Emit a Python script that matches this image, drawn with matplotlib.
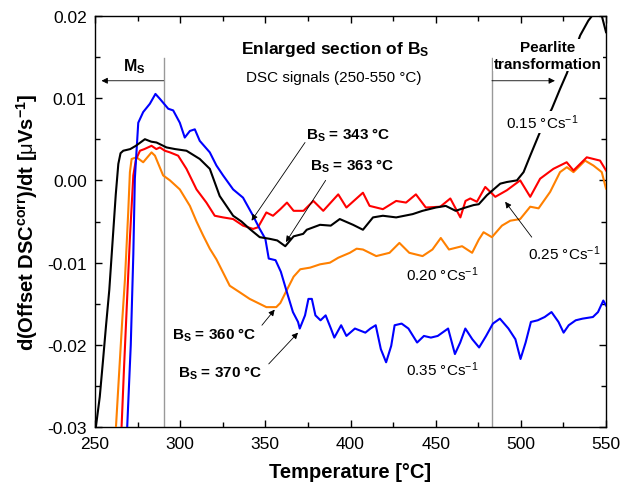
import matplotlib
matplotlib.use("Agg")
import matplotlib.pyplot as plt
from matplotlib.ticker import MultipleLocator, FormatStrFormatter

plt.rcParams['font.family'] = ['Liberation Sans', 'DejaVu Sans']
plt.rcParams['mathtext.fontset'] = 'custom'
plt.rcParams['mathtext.rm'] = 'Liberation Sans'
plt.rcParams['mathtext.bf'] = 'Liberation Sans:bold'
plt.rcParams['mathtext.it'] = 'Liberation Sans:italic'
plt.rcParams['axes.unicode_minus'] = False

# ---- data (temperature [°C], signal) ----
black_015 = [(250.5,-0.030),(252.8,-0.0263),(254.7,-0.0219),(256.5,-0.0176),(258.4,-0.0133),
             (260.3,-0.0075),(262.2,-0.0017),(263.7,0.0020),(265,0.0033),(266.6,0.0036),
             (270.7,0.0038),(274,0.0042),(279.3,0.0050),(283,0.0047),(286.1,0.0046),
             (292,0.0040),(297,0.0038),(303.7,0.0036),(311.5,0.0026),(317.4,0.0014),
             (323.2,-0.0019),(331.1,-0.0043),(336,-0.0050),(340.8,-0.0059),(346.7,-0.0069),
             (352.5,-0.0071),(357,-0.0073),(361.7,-0.0080),(366.6,-0.0068),(372.2,-0.0065),
             (374.3,-0.0060),(382.1,-0.0054),(388.4,-0.0055),(393.7,-0.0047),(401.5,-0.0054),
             (407.3,-0.0060),(413.2,-0.0045),(419,-0.0043),(426.8,-0.0045),(436.5,-0.0041),
             (442.3,-0.0037),(450.1,-0.0033),(455.9,-0.0031),(461.7,-0.0037),(467.5,-0.0033),
             (472.3,-0.0030),(475.3,-0.0029),(480.1,-0.0018),(487.9,-0.0004),(491.8,-0.0002),
             (497.7,0.0),(501.6,0.0010),(505.5,0.0030),(511.3,0.0059),(518.2,0.0087),
             (523,0.0111),(527,0.0130),(534.8,0.0176),(539.6,0.0194),(542.6,0.0202),
             (545,0.0215),(547.5,0.0200),(550,0.0180)]

red_025 = [(265.6,-0.030),(267,-0.023),(268.6,-0.0156),(270.5,-0.007),(272.5,0.0006),
           (274,0.0025),(276.4,0.0036),(279,0.0038),(283.2,0.0042),(286,0.0038),
           (288.1,0.0040),(291,0.0036),(294,0.0034),(298.8,0.0030),(303.7,0.0014),
           (309.6,-0.0011),(315.4,-0.0027),(320.3,-0.0043),(325.2,-0.0045),(331.1,-0.0047),
           (336.9,-0.0055),(342.8,-0.0059),(345.7,-0.0057),(350.6,-0.0039),(354.5,-0.0043),
           (358.8,-0.0035),(362.7,-0.0027),(366.6,-0.0037),(372.4,-0.0037),(378.2,-0.0025),
           (384,-0.0037),(392.8,-0.0017),(397.6,-0.0033),(407.3,-0.0015),(411.2,-0.0031),
           (419,-0.0035),(426.8,-0.0025),(432.6,-0.0027),(438.4,-0.0017),(444.2,-0.0033),
           (452.7,-0.0032),(458.6,-0.0022),(464.5,-0.0045),(467.5,-0.0025),(470.3,-0.0022),
           (474.2,-0.0026),(479.1,-0.0008),(485,-0.0020),(491.8,-0.0012),(499.6,0.0),
           (505.5,-0.0020),(511.3,0.0002),(519.1,0.0014),(526.9,0.0022),(530.9,0.0012),
           (538.7,0.0028),(546.5,0.0024),(550,0.0012)]

orange_020 = [(262.3,-0.030),(264,-0.024),(266,-0.017),(267.6,-0.012),(269.5,-0.0039),
              (270.5,0.0010),(271.5,0.0026),(274.4,0.0028),(278.3,0.0022),(283.2,0.0034),
              (285.2,0.0030),(290,0.0006),(294,0.0),(299.8,-0.0011),(305.7,-0.0031),
              (309.6,-0.0050),(313.5,-0.0067),(317.4,-0.0083),(321.3,-0.0096),(325.2,-0.0112),
              (329.1,-0.0128),(335,-0.0136),(340.8,-0.0144),(346.7,-0.0150),(350.6,-0.0154),
              (356.4,-0.0154),(358.8,-0.0149),(361.7,-0.0137),(366.6,-0.0117),(370.5,-0.0108),
              (376.3,-0.0106),(382.1,-0.0102),(387.9,-0.0100),(392.8,-0.0094),(399.6,-0.0088),
              (403.6,-0.0083),(407.3,-0.0084),(415.1,-0.0092),(422.9,-0.0088),(428.7,-0.0076),
              (434.5,-0.0088),(442.3,-0.0092),(448.1,-0.0084),(453,-0.0070),(457.8,-0.0084),
              (465.5,-0.0080),(471.4,-0.0088),(475.3,-0.0072),(478.1,-0.0063),(483,-0.0069),
              (488.9,-0.0055),(493.8,-0.0049),(499.6,-0.0047),(505.5,-0.0032),(510.4,-0.0034),
              (517.2,-0.0014),(523,0.0010),(527,0.0016),(530.9,0.0010),(534.8,0.0018),
              (537.7,0.0024),(542.6,0.0018),(547.5,0.0010),(550,-0.0010)]

blue_035 = [(268.9,-0.030),(271,-0.020),(272.5,-0.009),(273.4,0.0002),(275.4,0.0070),
            (278.3,0.0083),(282.2,0.0093),(285.5,0.0105),(288.1,0.0099),(293,0.0087),
            (295.9,0.0085),(299.8,0.0070),(302.7,0.0052),(305.7,0.0060),(308.6,0.0062),
            (311.5,0.0048),(317.4,0.0034),(321.3,0.0018),(325.2,0.0006),(331.1,-0.0011),
            (336.9,-0.0021),(342.8,-0.0043),(346.7,-0.0059),(350,-0.0071),(352,-0.0095),
            (356,-0.0097),(359.1,-0.0111),(362.1,-0.0132),(366.2,-0.0160),(369.2,-0.0172),
            (370.2,-0.0180),(373.3,-0.0164),(375.3,-0.0144),(377.3,-0.0144),(379.4,-0.0164),
            (382.4,-0.0170),(385.4,-0.0164),(388.5,-0.0180),(390.5,-0.0191),(394.5,-0.0176),
            (397.6,-0.0189),(402.6,-0.0180),(408.7,-0.0185),(411.7,-0.0180),(414.8,-0.0176),
            (417.8,-0.0205),(420.9,-0.0221),(423.9,-0.0201),(425.9,-0.0176),(430,-0.0174),
            (434,-0.0180),(439.1,-0.0197),(443.1,-0.0189),(447.2,-0.0191),(451.2,-0.0189),
            (457.3,-0.0180),(461.3,-0.0211),(464.4,-0.0197),(467.4,-0.0180),(471.5,-0.0193),
            (475.5,-0.0203),(479.6,-0.0189),(483.6,-0.0174),(487.7,-0.0168),(492.7,-0.0180),
            (496.8,-0.0193),(499.8,-0.0217),(502.8,-0.0197),(505.9,-0.0172),(509.9,-0.0170),
            (514,-0.0166),(518,-0.0160),(522.1,-0.0172),(525.1,-0.0185),(528.1,-0.0176),
            (532.2,-0.0170),(536.2,-0.0168),(542.3,-0.0166),(545.3,-0.0160),(548.4,-0.0146),
            (550,-0.0152)]

ms_temp = 290.3
pearlite_temp = 483.0

fig = plt.figure(figsize=(6.32, 4.89), dpi=100)
ax = fig.add_axes([0.1503, 0.1241, 0.9589 - 0.1503, 0.9658 - 0.1241])

def draw(pts, color, z):
    t = [p[0] for p in pts]
    v = [p[1] for p in pts]
    ax.plot(t, v, color=color, lw=1.5, zorder=z, solid_joinstyle='round')

draw(orange_020, '#ff8000', 3)
draw(red_025, '#ff0000', 4)
draw(black_015, 'black', 5)
draw(blue_035, '#0000ff', 4.5)

ax.set_xlim(250, 550)
ax.set_ylim(-0.03, 0.02)
ax.xaxis.set_major_locator(MultipleLocator(50))
ax.xaxis.set_minor_locator(MultipleLocator(25))
ax.yaxis.set_major_locator(MultipleLocator(0.01))
ax.yaxis.set_minor_locator(MultipleLocator(0.005))
ax.yaxis.set_major_formatter(FormatStrFormatter('%.2f'))
ax.tick_params(which='both', direction='in', top=True, right=True, labelsize=12.5, width=1, pad=6)
ax.tick_params(which='major', length=5)
ax.tick_params(which='minor', length=3.5)
for s in ax.spines.values():
    s.set_linewidth(1.0)

ax.set_xlabel('Temperature [°C]', fontsize=14.5, fontweight='bold', labelpad=8)
ax.set_ylabel(r'd(Offset DSC$^{\mathbf{corr}}$)/dt [$\mathrm{\mu}$Vs$^{\mathbf{-1}}$]',
              fontsize=14.5, fontweight='bold')
ax.yaxis.set_label_coords(-0.108, 0.5)

# vertical marker lines
ax.plot([ms_temp, ms_temp], [0.0149, -0.03], color='#999999', lw=1, zorder=2)
ax.plot([pearlite_temp, pearlite_temp], [0.0149, -0.03], color='#999999', lw=1, zorder=2)

arr = dict(arrowstyle='-|>', color='black', lw=0.6, mutation_scale=9, shrinkA=0, shrinkB=0)
ax.annotate('', xy=(253.8, 0.0121), xytext=(ms_temp, 0.0121), arrowprops=arr, zorder=6)
ax.annotate('', xy=(520, 0.0121), xytext=(pearlite_temp, 0.0121), arrowprops=arr, zorder=6)

ax.text(273, 0.0139, r'$\mathbf{M_S}$', fontsize=11.5, ha='center', va='center', zorder=7)
ax.text(391, 0.0160, r'Enlarged section of $\mathbf{B_S}$', fontsize=12.5, fontweight='bold',
        ha='center', va='center', zorder=7)
ax.text(390, 0.0126, 'DSC signals (250-550 °C)', fontsize=11, ha='center', va='center', zorder=7)
ax.text(516, 0.0152, 'Pearlite\ntransformation', fontsize=11, fontweight='bold', ha='center',
        va='center', linespacing=1.25, zorder=7,
        bbox=dict(facecolor='white', edgecolor='none', pad=0.5))

wb = dict(facecolor='white', edgecolor='none', pad=1)
ax.text(512.3, 0.0071, r'0.15 °Cs$^{-1}$', fontsize=11, ha='center', va='center', zorder=7, bbox=wb)
ax.text(453.6, -0.0113, r'0.20 °Cs$^{-1}$', fontsize=11, ha='center', va='center', zorder=7)
ax.text(453.6, -0.0229, r'0.35 °Cs$^{-1}$', fontsize=11, ha='center', va='center', zorder=7)
ax.text(525.4, -0.0088, r'0.25 °Cs$^{-1}$', fontsize=11, ha='center', va='center', zorder=7)
ax.annotate('', xy=(490.8, -0.0026), xytext=(506.4, -0.0069), arrowprops=arr, zorder=6)

bs_kw = dict(fontsize=11, ha='center', va='center', zorder=7)
ax.text(398.6, 0.0056, r'$\mathbf{B_S}$ = 343 °C', fontweight='bold', **bs_kw)
ax.annotate('', xy=(341.9, -0.0049), xytext=(373.3, 0.0046), arrowprops=arr, zorder=6)
ax.text(401, 0.0018, r'$\mathbf{B_S}$ = 363 °C', fontweight='bold', **bs_kw)
ax.annotate('', xy=(362.1, -0.0075), xytext=(385.4, 0.0), arrowprops=arr, zorder=6)
ax.text(320, -0.0187, r'$\mathbf{B_S}$ = 360 °C', fontweight='bold', **bs_kw)
ax.annotate('', xy=(355.5, -0.0157), xytext=(348, -0.0176), arrowprops=arr, zorder=6)
ax.text(323.6, -0.0233, r'$\mathbf{B_S}$ = 370 °C', fontweight='bold', **bs_kw)
ax.annotate('', xy=(369.2, -0.0185), xytext=(352, -0.0223), arrowprops=arr, zorder=6)

fig.savefig('out.png', dpi=100)
